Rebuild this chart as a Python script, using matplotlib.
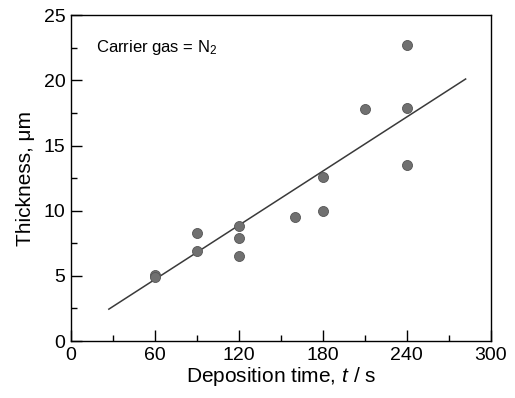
import numpy as np
import matplotlib
matplotlib.use("Agg")
import matplotlib.pyplot as plt
from matplotlib.ticker import MultipleLocator

plt.rcParams['font.family'] = ['Liberation Sans', 'DejaVu Sans']
plt.rcParams['mathtext.fontset'] = 'custom'
plt.rcParams['mathtext.rm'] = 'Liberation Sans'
plt.rcParams['mathtext.it'] = 'Liberation Sans:italic'

# pontos medidos (tempo de deposição em s, espessura em um)
tempo = [60, 60, 90, 90, 120, 120, 120, 160, 180, 180, 210, 240, 240, 240]
espessura = [5.1, 4.9, 8.3, 6.9, 8.8, 7.9, 6.5, 9.5, 10.0, 12.6, 17.8, 22.7, 17.9, 13.5]

# reta de ajuste (extremos)
ajuste_x = [27, 282]
ajuste_y = [2.45, 20.1]

fig = plt.figure(figsize=(5.15, 3.98), dpi=100)
ax = fig.add_axes([0.138, 0.143, 0.815, 0.819])

ax.plot(ajuste_x, ajuste_y, color="#3a3a3a", lw=1.1)
ax.plot(tempo, espessura, "o", ms=7.2, color="#707070", mec="#555555", mew=0.6)

ax.set_xlim(0, 300)
ax.set_ylim(0, 25)
ax.xaxis.set_major_locator(MultipleLocator(60))
ax.xaxis.set_minor_locator(MultipleLocator(30))
ax.yaxis.set_major_locator(MultipleLocator(5))
ax.yaxis.set_minor_locator(MultipleLocator(2.5))
ax.tick_params(which="both", direction="in", top=False, right=False, labelsize=14, pad=4)
ax.tick_params(which="major", length=8, width=1)
ax.tick_params(which="minor", length=4, width=1)
for s in ax.spines.values():
    s.set_linewidth(1.0)

ax.set_xlabel("Deposition time, $t$ / s", fontsize=15, labelpad=1)
ax.set_ylabel("Thickness, \u03bcm", fontsize=15, labelpad=6)
ax.text(0.06, 0.9, "Carrier gas = N$_2$", transform=ax.transAxes, fontsize=12, va="center")

fig.savefig("out.png", dpi=100)
